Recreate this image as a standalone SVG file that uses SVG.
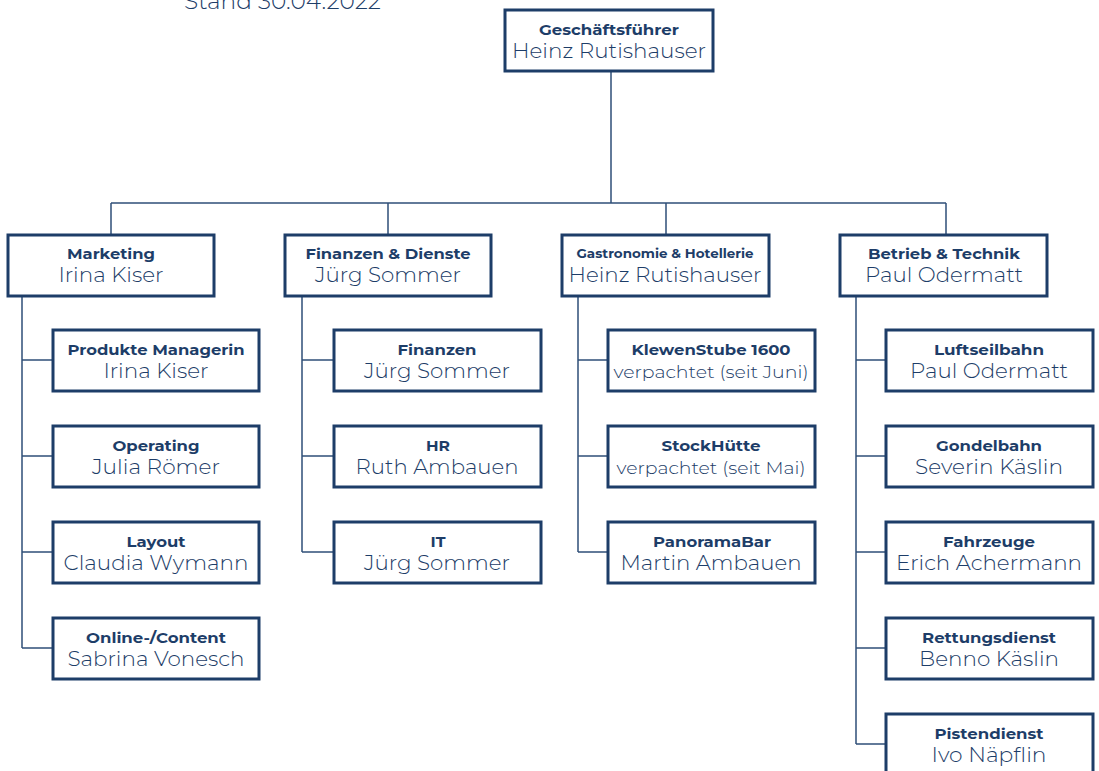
<svg xmlns="http://www.w3.org/2000/svg" width="1099" height="771" viewBox="0 0 1099 771">
<style>
.box{fill:#fff;stroke:#1d3d68;stroke-width:3}
.ln{fill:none;stroke:#2f4f78;stroke-width:1.5}
.t{font-family:"Montserrat","Open Sans","Noto Sans",sans-serif;font-weight:700;font-size:15px;fill:#1d3d68;text-anchor:middle}
.n{font-family:"Montserrat","Open Sans","Noto Sans",sans-serif;font-weight:300;font-size:21px;fill:#1d3d68;text-anchor:middle}
.s{font-size:17px}
.st{font-family:"Montserrat","Open Sans","Noto Sans",sans-serif;font-weight:300;font-size:22px;fill:#1d3d68}
</style>
<rect width="1099" height="771" fill="#fff"/>
<text class="st" x="184" y="9" textLength="197" lengthAdjust="spacingAndGlyphs">Stand 30.04.2022</text>
<g id="connectors">
<path class="ln" d="M611 71V203M111 203H946M111 203V234M388 203V234M666 203V234M946 203V234"/>
<path class="ln" d="M22 296V648M22 360H52M22 456H52M22 552H52M22 648H52"/>
<path class="ln" d="M302 296V552M302 360H333M302 456H333M302 552H333"/>
<path class="ln" d="M578 296V552M578 360H607M578 456H607M578 552H607"/>
<path class="ln" d="M856 296V744M856 360H885M856 456H885M856 552H885M856 648H885M856 744H885"/>
</g>
<g id="gf"><rect class="box" x="505" y="10" width="208" height="61"/><text class="t" x="609" y="35" textLength="140" lengthAdjust="spacingAndGlyphs">Geschäftsführer</text><text class="n" x="609" y="58" textLength="194" lengthAdjust="spacingAndGlyphs">Heinz Rutishauser</text></g>
<g id="marketing"><rect class="box" x="8" y="235" width="206" height="61"/><text class="t" x="111" y="259" textLength="88" lengthAdjust="spacingAndGlyphs">Marketing</text><text class="n" x="111" y="282" textLength="105" lengthAdjust="spacingAndGlyphs">Irina Kiser</text></g>
<g id="finanzen-dienste"><rect class="box" x="285" y="235" width="206" height="61"/><text class="t" x="388" y="259" textLength="165" lengthAdjust="spacingAndGlyphs">Finanzen &amp; Dienste</text><text class="n" x="388" y="282" textLength="146" lengthAdjust="spacingAndGlyphs">Jürg Sommer</text></g>
<g id="gastro"><rect class="box" x="562" y="235" width="207" height="61"/><text class="t" x="665" y="258" style="font-size:12px" textLength="177" lengthAdjust="spacingAndGlyphs">Gastronomie &amp; Hotellerie</text><text class="n" x="665" y="282" textLength="193" lengthAdjust="spacingAndGlyphs">Heinz Rutishauser</text></g>
<g id="betrieb"><rect class="box" x="840" y="235" width="207" height="61"/><text class="t" x="944" y="259" textLength="152" lengthAdjust="spacingAndGlyphs">Betrieb &amp; Technik</text><text class="n" x="944" y="282" textLength="158" lengthAdjust="spacingAndGlyphs">Paul Odermatt</text></g>

<g id="produkte"><rect class="box" x="53" y="330" width="206" height="61"/><text class="t" x="156" y="355" textLength="177" lengthAdjust="spacingAndGlyphs">Produkte Managerin</text><text class="n" x="156" y="378" textLength="105" lengthAdjust="spacingAndGlyphs">Irina Kiser</text></g>
<g id="operating"><rect class="box" x="53" y="426" width="206" height="61"/><text class="t" x="156" y="451" textLength="87" lengthAdjust="spacingAndGlyphs">Operating</text><text class="n" x="156" y="474" textLength="128" lengthAdjust="spacingAndGlyphs">Julia Römer</text></g>
<g id="layout"><rect class="box" x="53" y="522" width="206" height="61"/><text class="t" x="156" y="547" textLength="59" lengthAdjust="spacingAndGlyphs">Layout</text><text class="n" x="156" y="570" textLength="185" lengthAdjust="spacingAndGlyphs">Claudia Wymann</text></g>
<g id="online"><rect class="box" x="53" y="618" width="206" height="61"/><text class="t" x="156" y="643" textLength="140" lengthAdjust="spacingAndGlyphs">Online-/Content</text><text class="n" x="156" y="666" textLength="177" lengthAdjust="spacingAndGlyphs">Sabrina Vonesch</text></g>

<g id="finanzen"><rect class="box" x="334" y="330" width="207" height="61"/><text class="t" x="437" y="355" textLength="79" lengthAdjust="spacingAndGlyphs">Finanzen</text><text class="n" x="437" y="378" textLength="146" lengthAdjust="spacingAndGlyphs">Jürg Sommer</text></g>
<g id="hr"><rect class="box" x="334" y="426" width="207" height="61"/><text class="t" x="438" y="451" textLength="24" lengthAdjust="spacingAndGlyphs">HR</text><text class="n" x="437" y="474" textLength="163" lengthAdjust="spacingAndGlyphs">Ruth Ambauen</text></g>
<g id="it"><rect class="box" x="334" y="522" width="207" height="61"/><text class="t" x="438" y="547" textLength="15" lengthAdjust="spacingAndGlyphs">IT</text><text class="n" x="437" y="570" textLength="146" lengthAdjust="spacingAndGlyphs">Jürg Sommer</text></g>

<g id="klewenstube"><rect class="box" x="608" y="330" width="207" height="61"/><text class="t" x="711" y="355" textLength="159" lengthAdjust="spacingAndGlyphs">KlewenStube 1600</text><text class="n s" x="711" y="378" textLength="195" lengthAdjust="spacingAndGlyphs">verpachtet (seit Juni)</text></g>
<g id="stockhuette"><rect class="box" x="608" y="426" width="207" height="61"/><text class="t" x="711" y="451" textLength="99" lengthAdjust="spacingAndGlyphs">StockHütte</text><text class="n s" x="711" y="474" textLength="189" lengthAdjust="spacingAndGlyphs">verpachtet (seit Mai)</text></g>
<g id="panoramabar"><rect class="box" x="608" y="522" width="207" height="61"/><text class="t" x="712" y="547" textLength="118" lengthAdjust="spacingAndGlyphs">PanoramaBar</text><text class="n" x="711" y="570" textLength="181" lengthAdjust="spacingAndGlyphs">Martin Ambauen</text></g>

<g id="luftseilbahn"><rect class="box" x="886" y="330" width="207" height="61"/><text class="t" x="989" y="355" textLength="110" lengthAdjust="spacingAndGlyphs">Luftseilbahn</text><text class="n" x="989" y="378" textLength="158" lengthAdjust="spacingAndGlyphs">Paul Odermatt</text></g>
<g id="gondelbahn"><rect class="box" x="886" y="426" width="207" height="61"/><text class="t" x="989" y="451" textLength="106" lengthAdjust="spacingAndGlyphs">Gondelbahn</text><text class="n" x="989" y="474" textLength="148" lengthAdjust="spacingAndGlyphs">Severin Käslin</text></g>
<g id="fahrzeuge"><rect class="box" x="886" y="522" width="207" height="61"/><text class="t" x="989" y="547" textLength="92" lengthAdjust="spacingAndGlyphs">Fahrzeuge</text><text class="n" x="989" y="570" textLength="186" lengthAdjust="spacingAndGlyphs">Erich Achermann</text></g>
<g id="rettungsdienst"><rect class="box" x="886" y="618" width="207" height="61"/><text class="t" x="989" y="643" textLength="134" lengthAdjust="spacingAndGlyphs">Rettungsdienst</text><text class="n" x="989" y="666" textLength="140" lengthAdjust="spacingAndGlyphs">Benno Käslin</text></g>
<g id="pistendienst"><rect class="box" x="886" y="714" width="207" height="61"/><text class="t" x="989" y="739" textLength="109" lengthAdjust="spacingAndGlyphs">Pistendienst</text><text class="n" x="989" y="762" textLength="115" lengthAdjust="spacingAndGlyphs">Ivo Näpflin</text></g>
</svg>
